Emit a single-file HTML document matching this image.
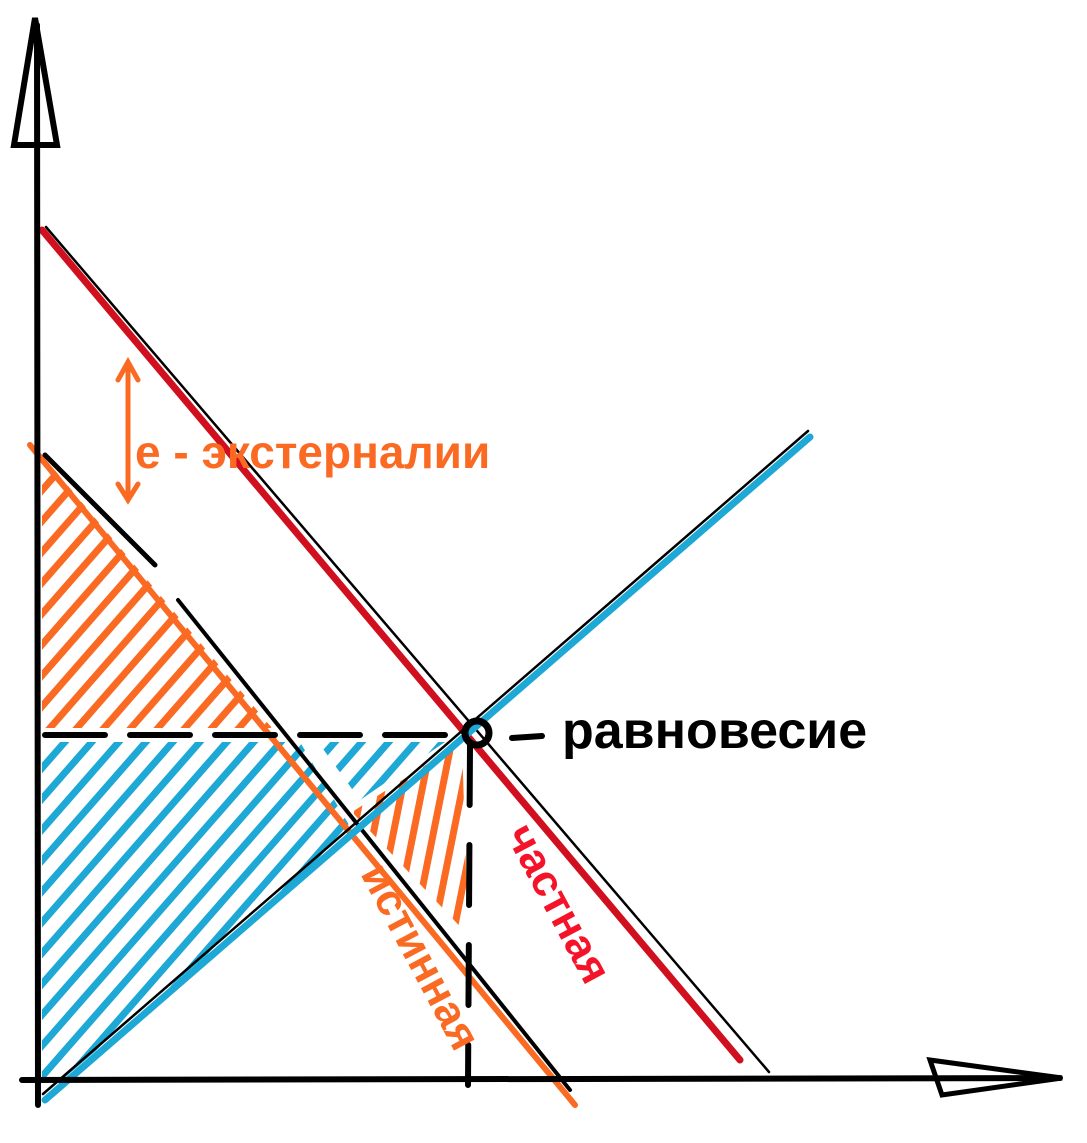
<!DOCTYPE html>
<html><head><meta charset="utf-8"><style>
html,body{margin:0;padding:0;background:#fff;}
svg{display:block;}
text{font-family:"Liberation Sans","DejaVu Sans",sans-serif;font-weight:bold;}
</style></head><body>
<svg id="c" width="1087" height="1143" viewBox="0 0 1087 1143" xmlns="http://www.w3.org/2000/svg">
<defs>
<clipPath id="clipOrange1"><polygon points="42,455 42,728 272,728"/></clipPath>
<clipPath id="clipBlue1"><polygon points="42,742 300,742 352,830 62,1080 42,1080"/></clipPath>
<clipPath id="clipBlue2"><polygon points="318,742 445,742 360,800"/></clipPath>
<clipPath id="clipOrange2"><polygon points="352,812 462,742 468,935"/></clipPath>
</defs>
<g id="hatch"></g>
<g id="lines"></g>
<g stroke="#000" stroke-width="6" fill="none" stroke-linecap="round">
<path d="M37,25 L38,1105"/>
<path d="M14,145 L35,18 L57,145 Z"/>
<path d="M22,1080 L1060,1078"/>
<path d="M930,1060 L1062,1078 L942,1095 Z" stroke-width="5"/>
<path d="M45,735 L470,735" stroke-dasharray="60,25"/>
<path d="M470,745 L468,1085" stroke-dasharray="60,40"/>
<circle cx="477" cy="733" r="12" stroke-width="7"/>
<path d="M512,738 L542,736"/>
</g>
<g stroke="#fb6a22" stroke-width="5" fill="none" stroke-linecap="round">
<path d="M128,362 L128,500 M118,380 L128,362 L138,380 M118,484 L128,500 L138,484"/>
</g>
<text x="135" y="468" font-size="46" fill="#fb6a22">е - экстерналии</text>
<text x="562" y="748" font-size="52" fill="#000">равновесие</text>
<text transform="translate(556,905) rotate(62)" text-anchor="middle" dominant-baseline="middle" font-size="44" fill="#f5132a">частная</text>
<text transform="translate(418,958) rotate(62)" text-anchor="middle" dominant-baseline="middle" font-size="44" fill="#fb6a22">истинная</text>
</svg>
<script>
// curve endpoints (data space equals sketch coordinates)
const privateDemand = [[42,230],[740,1060]];
const trueDemand = [[30,445],[575,1105]];
const supply = [[45,1100],[810,437]];
const hatchRegions = ['clipOrange1','clipBlue1','clipBlue2','clipOrange2'];
const hatchColors = ['#fb6a22','#1da8d6','#1da8d6','#fb6a22'];
const NS='http://www.w3.org/2000/svg';
const L=document.getElementById('lines'), H=document.getElementById('hatch');
function line(g,p,col,w){const e=document.createElementNS(NS,'line');
e.setAttribute('x1',p[0][0]);e.setAttribute('y1',p[0][1]);e.setAttribute('x2',p[1][0]);e.setAttribute('y2',p[1][1]);
e.setAttribute('stroke',col);e.setAttribute('stroke-width',w);e.setAttribute('stroke-linecap','round');g.appendChild(e);return e;}
function off(p,dx,dy){return [[p[0][0]+dx,p[0][1]+dy],[p[1][0]+dx,p[1][1]+dy]];}
let e;
e=line(L,privateDemand,'#d0101e',7);


e=line(L,off([[privateDemand[0][0],privateDemand[0][1]],[privateDemand[1][0]+25,privateDemand[1][1]+15]],4,-3),'#000',2.5);


e=line(L,trueDemand,'#fb6a22',6);


e=line(L,[[45,455],[155,565]],'#000',5);


e=line(L,[[178,600],[570,1090]],'#000',4);


e=line(L,supply,'#1da8d6',7);


e=line(L,off(supply,-2,-6),'#000',2.5);


hatchRegions.forEach((id,i)=>{
 const g=document.createElementNS(NS,'g');
 g.setAttribute('clip-path','url(#'+id+')');
 
 
 const vertical = id==='clipOrange2';
 const step = vertical ? 20 : 27;
 for(let k=-1200;k<1200;k+=step){
  const p = vertical ? [[k+400,1000],[k+460,700]] : [[k,1200],[k+700,400]];
  const h=line(g,p,hatchColors[i],7);
  
  
 }
 H.appendChild(g);
});
</script>
</body></html>
